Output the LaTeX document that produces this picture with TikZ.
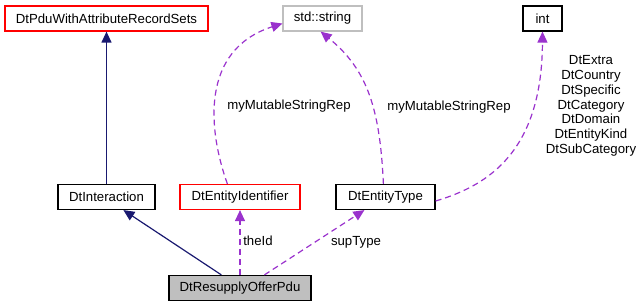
\documentclass[tikz,border=0pt]{standalone}
\usepackage{fontspec}
\setmainfont{Liberation Sans}
\usetikzlibrary{arrows.meta}
\definecolor{edgepurple}{HTML}{9A32CD}
\definecolor{edgenavy}{HTML}{191970}
\definecolor{boxgray}{HTML}{BFBFBF}
\tikzset{
  box/.style={draw=black, line width=1.2pt, minimum height=25pt, inner sep=0pt, font=\fontsize{13.2}{14.8}\selectfont},
  redbox/.style={box, draw=red},
  graybox/.style={box, draw=boxgray},
  focusbox/.style={box, fill=boxgray},
  inherit/.style={draw=edgenavy, line width=1.2pt, -{Triangle[length=11pt,width=10pt]}, color=edgenavy},
  usage/.style={draw=edgepurple, line width=1.2pt, dash pattern=on 6pt off 4pt, -{Triangle[length=11pt,width=10pt]}, color=edgepurple},
  lbl/.style={font=\fontsize{13.2}{14.8}\selectfont, inner sep=0pt, align=center, text=black}
}
\begin{document}
\begin{tikzpicture}[x=1pt,y=-1pt]
\useasboundingbox (0,0) rectangle (641,307);
\node[redbox, minimum width=203pt] (pdu) at (106.5,18.5) {DtPduWithAttributeRecordSets};
\node[graybox, minimum width=79pt] (str) at (322.5,18.5) {std::string};
\node[box, minimum width=39pt] (int) at (542.5,18.5) {int};
\node[box, minimum width=97pt] (inter) at (106.5,197) {DtInteraction};
\node[redbox, minimum width=120pt] (ident) at (240,197) {DtEntityIdentifier};
\node[box, minimum width=99pt] (etype) at (385.5,197) {DtEntityType};
\node[focusbox, minimum width=142pt] (res) at (240,288) {DtResupplyOfferPdu};

\draw[inherit] (inter.north) -- (pdu.south);
\draw[inherit] ([xshift=53pt]res.north west) -- ([xshift=66pt]inter.south west);
\draw[usage] (res.north) -- (ident.south);
\node[lbl] (idlbl) at (258,241) {theId};
\draw[usage] ([xshift=96pt]res.north west) -- ([xshift=29pt]etype.south west);
\node[lbl] (suplbl) at (356,242) {supType};
\draw[usage] ([xshift=48pt]ident.north west) .. controls (208,130) and (200,50) .. ([yshift=-5pt]str.west);
\node[lbl] (l1) at (289,106) {myMutableStringRep};
\draw[usage] ([xshift=48pt]etype.north west) .. controls (380,110) and (368,70) .. ([xshift=-42pt]str.south east);
\node[lbl] (l2) at (449,107) {myMutableStringRep};
\draw[usage] ([yshift=-4pt]etype.east) .. controls (490,185) and (542,150) .. (int.south);
\node[lbl] (l3) at (591,106) {DtExtra\\DtCountry\\DtSpecific\\DtCategory\\DtDomain\\DtEntityKind\\DtSubCategory};
\end{tikzpicture}
\end{document}
